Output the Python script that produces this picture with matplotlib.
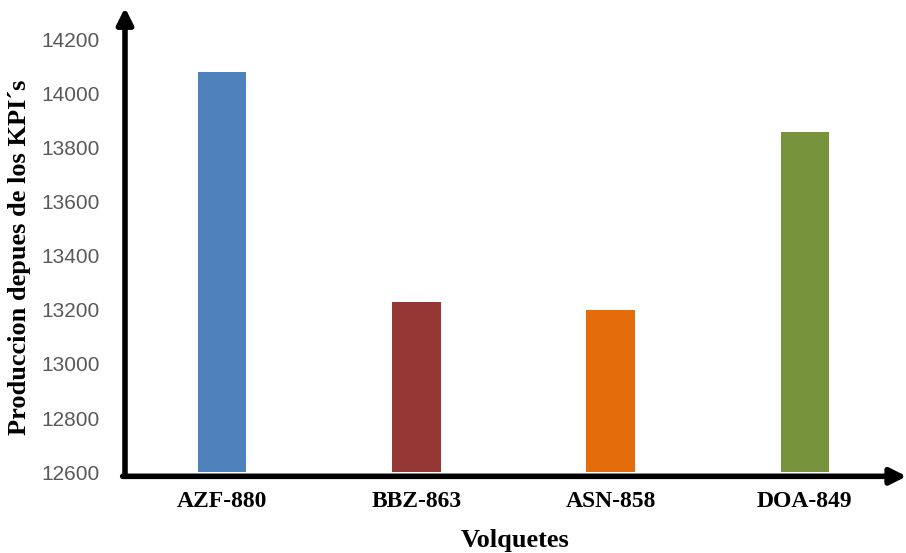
import matplotlib.pyplot as plt

# Produccion por volquete
volquetes = ["AZF-880", "BBZ-863", "ASN-858", "DOA-849"]
produccion = [14080, 13230, 13200, 13860]
colores = ["#4F81BD", "#953735", "#E46C0A", "#77933C"]
y_ticks = [12600, 12800, 13000, 13200, 13400, 13600, 13800, 14000, 14200]

fig = plt.figure(figsize=(9.06, 5.53), dpi=100)
ax = fig.add_axes([125 / 906, 81 / 553, 777 / 906, 432 / 553])

x = range(len(volquetes))
ax.bar(x, produccion, width=0.25, color=colores, bottom=0)

ax.set_xlim(-0.5, 3.5)
ax.set_ylim(12600, 14200)
ax.set_yticks(y_ticks)
ax.set_yticklabels([str(v) for v in y_ticks], fontsize=15, color="#595959",
                   family="Liberation Sans")
ax.set_xticks(list(x))
ax.set_xticklabels(volquetes, fontsize=17, fontweight="bold", family="Liberation Serif")
ax.tick_params(length=0, axis="y", pad=18)
ax.tick_params(length=0, axis="x", pad=14)

for s in ax.spines.values():
    s.set_visible(False)

# ejes con flecha
ax.annotate("", xy=(0, 1.075), xytext=(0, -0.01), xycoords="axes fraction",
            arrowprops=dict(arrowstyle="-|>", lw=4, color="black", mutation_scale=24,
                            shrinkA=0, shrinkB=0))
ax.annotate("", xy=(1.006, -0.01), xytext=(-0.003, -0.01), xycoords="axes fraction",
            arrowprops=dict(arrowstyle="-|>", lw=4, color="black", mutation_scale=24,
                            shrinkA=0, shrinkB=0))

fig.text(515 / 906, 1 - 540 / 553, "Volquetes", fontsize=19, fontweight="bold",
         family="Liberation Serif", ha="center", va="center")
fig.text(20 / 906, 0.535, "Produccion depues de los KPI´s", rotation=90, fontsize=19,
         fontweight="bold", family="Liberation Serif", ha="center", va="center")

fig.savefig("out.png", dpi=100)
